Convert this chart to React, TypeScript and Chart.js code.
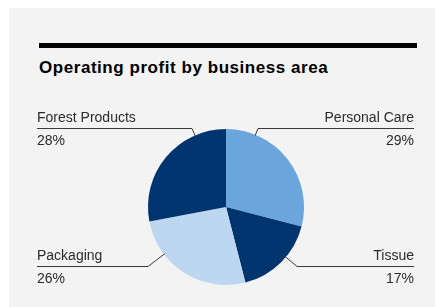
import React, { useEffect, useRef } from "react";
import { Chart, registerables } from "chart.js";

Chart.register(...registerables);

const categories = ["Personal Care", "Tissue", "Packaging", "Forest Products"];
const shares = [29, 17, 26, 28];
const percentLabels = ["29%", "17%", "26%", "28%"];
const sliceColors = ["#6aa5db", "#00346e", "#bdd7f1", "#00346e"];

// label placement (canvas coordinates): side, y of the underline, elbow x
const labelLayout = [
  { side: "right", lineY: 120.5, elbowX: 249 },
  { side: "right", lineY: 258.5, elbowX: 288 },
  { side: "left", lineY: 258.5, elbowX: 139 },
  { side: "left", lineY: 120.5, elbowX: 183 },
];

const LEFT_X = 28;
const RIGHT_X = 405;

const leaderPlugin = {
  id: "leaderLabels",
  afterDraw(chart: any) {
    const ctx = chart.ctx;
    const meta = chart.getDatasetMeta(0);
    ctx.save();
    meta.data.forEach((arc: any, i: number) => {
      const lay = labelLayout[i];
      const cx = arc.x;
      const cy = arc.y;
      const r = arc.outerRadius;
      const ex = lay.elbowX;
      const ey = lay.lineY;
      const dx = ex - cx;
      const dy = ey - cy;
      const len = Math.sqrt(dx * dx + dy * dy);
      const sx = cx + (dx / len) * (r - 1);
      const sy = cy + (dy / len) * (r - 1);
      const endX = lay.side === "left" ? LEFT_X : RIGHT_X;
      ctx.strokeStyle = "#3a3a3a";
      ctx.lineWidth = 1;
      ctx.beginPath();
      ctx.moveTo(sx, sy);
      ctx.lineTo(ex, ey);
      ctx.lineTo(endX, ey);
      ctx.stroke();
      ctx.fillStyle = "#2b2b2b";
      ctx.font = "14px 'Liberation Sans', Arial, sans-serif";
      ctx.textAlign = lay.side === "left" ? "left" : "right";
      ctx.textBaseline = "alphabetic";
      ctx.fillText(categories[i], endX, ey - 7);
      ctx.fillText(percentLabels[i], endX, ey + 16);
    });
    ctx.restore();
  },
};

export default function App() {
  const ref = useRef<HTMLCanvasElement | null>(null);
  useEffect(() => {
    if (!ref.current) return;
    const chart = new Chart(ref.current, {
      type: "pie",
      data: {
        labels: categories,
        datasets: [
          {
            data: shares,
            backgroundColor: sliceColors,
            borderWidth: 0,
          },
        ],
      },
      options: {
        animation: false,
        responsive: false,
        maintainAspectRatio: false,
        layout: { padding: { left: 139, right: 131, top: 121, bottom: 22 } },
        plugins: {
          legend: { display: false },
          tooltip: { enabled: false },
          title: { display: false },
        },
      },
      plugins: [leaderPlugin],
    });
    return () => chart.destroy();
  }, []);

  return (
    <div
      style={{
        position: "fixed",
        left: 9,
        top: 8,
        right: 0,
        bottom: 0,
        background: "#f3f3f3",
        overflow: "hidden",
      }}
    >
      <div
        style={{
          position: "absolute",
          left: 30,
          top: 35,
          width: 378,
          height: 5,
          background: "#000",
        }}
      />
      <div
        style={{
          position: "absolute",
          left: 30,
          top: 50,
          fontFamily: "'Liberation Sans', Arial, sans-serif",
          fontWeight: "bold",
          fontSize: 17,
          letterSpacing: "0.55px",
          lineHeight: "20px",
          color: "#000",
          whiteSpace: "nowrap",
        }}
      >
        Operating profit by business area
      </div>
      <canvas
        ref={ref}
        width={426}
        height={299}
        style={{ position: "absolute", left: 0, top: 0, width: 426, height: 299 }}
      />
    </div>
  );
}
